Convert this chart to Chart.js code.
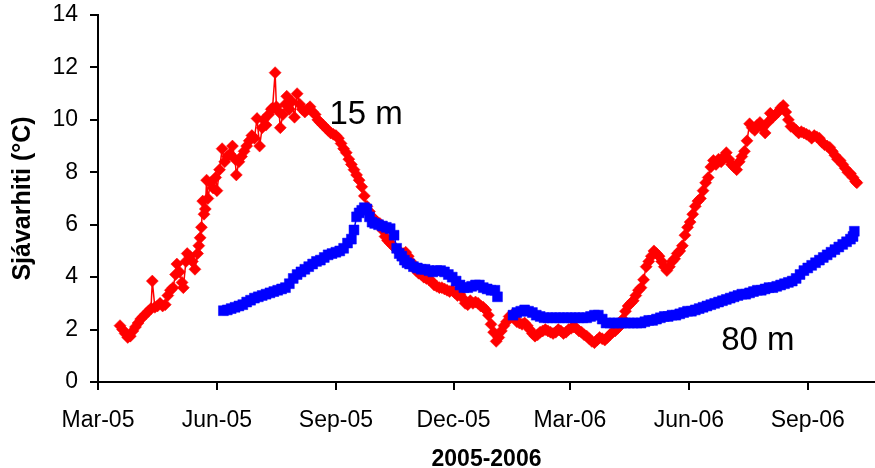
<!DOCTYPE html>
<html>
<head>
<meta charset="utf-8">
<title>Sjávarhiti 2005-2006</title>
<script src="https://cdn.jsdelivr.net/npm/chart.js@4/dist/chart.umd.min.js"></script>
<style>
  html, body { margin: 0; padding: 0; background: #fff; }
  #wrap { width: 875px; height: 468px; position: relative; }
</style>
</head>
<body>
<div id="wrap"><canvas id="c" width="875" height="468"></canvas></div>
<script>
// Days counted from 1 March 2005
const tickDays = [0, 92, 184, 275, 365, 457, 549];
const tickLabels = ['Mar-05', 'Jun-05', 'Sep-05', 'Dec-05', 'Mar-06', 'Jun-06', 'Sep-06'];
const yTicks = [0, 2, 4, 6, 8, 10, 12, 14];

// 15 m depth
const redDays = [
  17, 19, 21, 23, 25, 27, 29, 31, 33, 35, 37, 39, 41, 42, 44, 46, 48, 50, 52, 54,
  56, 58, 60, 61, 63, 65, 66, 68, 69, 71, 73, 75, 77, 78, 79, 80, 81, 82, 83, 84,
  85, 87, 89, 91, 92, 94, 96, 98, 100, 102, 104, 106, 107, 109, 111, 113, 115, 117, 119, 121,
  123, 125, 127, 128, 130, 132, 134, 135, 137, 138, 140, 141, 143, 145, 146, 148, 150, 152, 154, 156,
  158, 160, 162, 164, 166, 168, 170, 172, 174, 176, 178, 180, 182, 184, 186, 188, 190, 192, 194, 196,
  198, 200, 202, 204, 206, 208, 210, 212, 214, 216, 218, 220, 222, 224, 226, 228, 230, 232, 234, 236,
  238, 240, 242, 244, 246, 248, 250, 252, 254, 256, 258, 260, 262, 264, 266, 268, 270, 272, 274, 276,
  278, 280, 282, 284, 286, 288, 290, 292, 294, 296, 298, 300, 302, 304, 306, 308, 310, 312, 314, 316,
  318, 320, 322, 324, 326, 328, 330, 332, 334, 336, 338, 340, 342, 344, 346, 348, 350, 352, 354, 356,
  358, 360, 362, 364, 366, 368, 370, 372, 374, 376, 378, 380, 382, 384, 386, 388, 390, 392, 394, 396,
  398, 400, 402, 404, 406, 408, 410, 412, 414, 416, 418, 420, 422, 424, 426, 428, 430, 432, 434, 436,
  438, 440, 442, 444, 446, 448, 450, 452, 454, 456, 458, 460, 462, 464, 466, 468, 470, 472, 474, 476,
  478, 480, 482, 484, 486, 488, 490, 492, 494, 496, 498, 500, 502, 504, 506, 508, 510, 512, 514, 516,
  518, 520, 522, 524, 526, 528, 530, 532, 534, 536, 538, 540, 542, 544, 546, 548, 550, 552, 554, 556,
  558, 560, 562, 564, 566, 568, 570, 572, 574, 576, 578, 580, 582, 584, 586, 587
];
const redTemps = [
  2.15, 2.0, 1.85, 1.7, 1.75, 1.95, 2.1, 2.25, 2.4, 2.5, 2.6, 2.7, 2.8, 3.85, 2.85, 2.9, 3.0, 2.9, 2.95, 3.3,
  3.5, 3.6, 4.1, 4.5, 4.2, 3.8, 3.6, 4.6, 4.9, 4.8, 4.6, 4.3, 4.9, 5.2, 5.5, 5.9, 6.9, 6.4, 6.6, 7.7,
  7.0, 7.6, 7.4, 7.8, 7.3, 8.1, 8.9, 8.4, 8.6, 8.7, 9.0, 8.5, 7.9, 8.4, 8.6, 8.8, 9.0, 9.2, 9.4, 9.3,
  10.05, 9.0, 9.7, 10.0, 9.8, 10.2, 10.4, 10.45, 11.8, 10.5, 10.3, 9.7, 10.2, 10.6, 10.9, 10.4, 10.7, 10.1, 11.0, 10.6,
  10.4, 10.3, 10.4, 10.5, 10.3, 10.2, 10.0, 9.9, 9.8, 9.7, 9.6, 9.5, 9.45, 9.4, 9.3, 9.1, 8.9, 8.75, 8.5, 8.3,
  8.1, 7.9, 7.7, 7.45, 7.1, 6.7, 6.5, 6.3, 6.2, 6.1, 6.05, 5.8, 5.55, 5.4, 5.3, 5.2, 5.1, 5.0, 4.95, 4.9,
  4.95, 4.8, 4.6, 4.4, 4.25, 4.15, 4.1, 4.0, 3.95, 3.9, 3.85, 3.7, 3.65, 3.6, 3.6, 3.55, 3.5, 3.45, 3.5, 3.4,
  3.3, 3.35, 3.2, 3.0, 2.95, 3.1, 3.0, 3.05, 3.0, 2.9, 2.85, 2.75, 2.55, 2.2, 1.9, 1.55, 1.7, 1.95, 2.15, 2.3,
  2.5, 2.55, 2.45, 2.3, 2.25, 2.2, 2.25, 2.15, 2.0, 1.85, 1.75, 1.8, 1.9, 1.95, 2.0, 1.95, 1.9, 1.85, 1.9, 2.0,
  1.95, 1.85, 1.9, 2.0, 2.05, 2.1, 2.05, 1.95, 1.9, 1.8, 1.75, 1.65, 1.55, 1.5, 1.6, 1.7, 1.65, 1.6, 1.7, 1.8,
  1.9, 1.95, 2.05, 2.15, 2.4, 2.7, 2.9, 3.0, 3.1, 3.3, 3.5, 3.6, 3.9, 4.4, 4.6, 4.8, 5.0, 4.9, 4.8, 4.6,
  4.4, 4.25, 4.4, 4.6, 4.7, 4.9, 5.0, 5.2, 5.6, 5.9, 6.1, 6.4, 6.7, 6.9, 7.0, 7.3, 7.6, 7.8, 8.2, 8.45,
  8.3, 8.5, 8.4, 8.6, 8.75, 8.5, 8.3, 8.2, 8.1, 8.4, 8.6, 8.8, 9.2, 9.85, 9.7, 9.6, 9.8, 9.9, 9.7, 9.5,
  9.9, 10.25, 10.1, 10.2, 10.3, 10.45, 10.55, 10.3, 10.0, 9.75, 9.7, 9.6, 9.5, 9.55, 9.5, 9.45, 9.4, 9.3, 9.4, 9.35,
  9.3, 9.15, 9.05, 9.0, 8.95, 8.8, 8.65, 8.5, 8.45, 8.3, 8.15, 8.0, 7.95, 7.8, 7.65, 7.6
];

// 80 m depth (null marks the break in the record)
const blueDays = [
  97, 100, 103, 106, 109, 112, 115, 118, 121, 124, 127, 130, 133, 136, 139, 142, 145, 148, 151, 154,
  157, 160, 163, 166, 169, 172, 175, 178, 181, 184, 187, 190, 193, 196, 198, 200, 202, 204, 206, 208,
  210, 212, 214, 217, 220, 223, 226, 229, 231, 233, 235, 237, 239, 241, 244, 247, 250, 253, 256, 259,
  262, 265, 268, 271, 274, 277, 280, 283, 286, 289, 292, 295, 298, 301, 304, 307, 309,
  315,
  321, 324, 327, 330, 333, 336, 339, 342, 345, 348, 351, 354, 357, 360, 363, 366, 369, 372, 375, 378,
  381, 384, 387, 390, 393, 396, 399, 402, 405, 408, 411, 414, 417, 420, 423, 426, 429, 432, 435, 438,
  441, 444, 447, 450, 453, 456, 459, 462, 465, 468, 471, 474, 477, 480, 483, 486, 489, 492, 495, 498,
  501, 504, 507, 510, 513, 516, 519, 522, 525, 528, 531, 534, 537, 540, 543, 546, 549, 552, 555, 558,
  561, 564, 567, 570, 573, 576, 579, 582, 584, 585
];
const blueTemps = [
  2.72, 2.75, 2.8, 2.85, 2.9, 2.95, 3.05, 3.12, 3.2, 3.25, 3.3, 3.35, 3.4, 3.45, 3.5, 3.55, 3.6, 3.75, 3.95, 4.1,
  4.2, 4.3, 4.4, 4.5, 4.6, 4.65, 4.75, 4.85, 4.9, 4.95, 5.0, 5.1, 5.3, 5.45, 5.8, 6.3, 6.45, 6.55, 6.65, 6.6,
  6.3, 6.1, 6.05, 6.0, 5.95, 5.9, 5.85, 5.6, 5.1, 4.9, 4.8, 4.65, 4.55, 4.5, 4.4, 4.35, 4.3, 4.3, 4.25, 4.2,
  4.25, 4.25, 4.2, 4.1, 4.0, 3.85, 3.7, 3.6, 3.6, 3.65, 3.7, 3.7, 3.6, 3.55, 3.5, 3.5, 3.25,
  null,
  2.55, 2.65, 2.7, 2.75, 2.7, 2.65, 2.55, 2.5, 2.45, 2.45, 2.45, 2.45, 2.45, 2.45, 2.45, 2.45, 2.45, 2.45, 2.45, 2.45,
  2.5, 2.55, 2.55, 2.4, 2.25, 2.25, 2.25, 2.25, 2.25, 2.25, 2.25, 2.25, 2.25, 2.25, 2.3, 2.35, 2.35, 2.4, 2.45, 2.5,
  2.5, 2.55, 2.55, 2.6, 2.65, 2.7, 2.7, 2.75, 2.8, 2.85, 2.9, 2.95, 3.0, 3.05, 3.1, 3.15, 3.2, 3.25, 3.3, 3.35,
  3.35, 3.4, 3.45, 3.5, 3.5, 3.55, 3.6, 3.6, 3.65, 3.7, 3.75, 3.8, 3.85, 3.95, 4.1, 4.25, 4.35, 4.45, 4.55, 4.65,
  4.75, 4.85, 4.95, 5.05, 5.15, 5.25, 5.35, 5.45, 5.55, 5.75
];

const toPoints = (xs, ys) => xs.map((x, i) => ({ x: x, y: ys[i] }));

Chart.defaults.font.family = '"Liberation Sans", Arial, sans-serif';
Chart.defaults.color = '#000';

// Depth captions written next to each curve, anchored in data units
const depthLabels = {
  id: 'depthLabels',
  afterDatasetsDraw(chart, args, opts) {
    const { ctx, scales } = chart;
    ctx.save();
    ctx.fillStyle = '#000';
    ctx.font = opts.font;
    ctx.textAlign = 'left';
    ctx.textBaseline = 'alphabetic';
    opts.items.forEach(it => {
      ctx.fillText(it.text, scales.x.getPixelForValue(it.day), scales.y.getPixelForValue(it.temp));
    });
    ctx.restore();
  }
};

new Chart(document.getElementById('c'), {
  type: 'line',
  data: {
    datasets: [
      {
        label: '80 m',
        data: toPoints(blueDays, blueTemps),
        order: 0,
        borderColor: '#0000ff',
        backgroundColor: '#0000ff',
        borderWidth: 1.5,
        pointStyle: 'rect',
        pointRadius: 7,
        pointBorderWidth: 0.5,
        pointBackgroundColor: '#0000ff',
        pointBorderColor: '#0000ff',
        spanGaps: false,
        tension: 0
      },
      {
        label: '15 m',
        data: toPoints(redDays, redTemps),
        order: 1,
        borderColor: '#ff0000',
        backgroundColor: '#ff0000',
        borderWidth: 1.5,
        pointStyle: 'rectRot',
        pointRadius: 6,
        pointBorderWidth: 0.5,
        pointBackgroundColor: '#ff0000',
        pointBorderColor: '#ff0000',
        tension: 0
      }
    ]
  },
  options: {
    responsive: false,
    animation: false,
    events: [],
    layout: { autoPadding: false, padding: { top: 15, right: 0, left: 0, bottom: 0 } },
    plugins: {
      legend: { display: false },
      tooltip: { enabled: false },
      depthLabels: {
        font: '33px "Liberation Sans", Arial, sans-serif',
        items: [
          { text: '15 m', day: 179, temp: 9.84 },
          { text: '80 m', day: 482, temp: 1.22 }
        ]
      }
    },
    scales: {
      x: {
        type: 'linear',
        min: 0,
        max: 601,
        afterBuildTicks: s => { s.ticks = tickDays.map(v => ({ value: v })); },
        afterFit: s => { s.height = 86; s.paddingLeft = 0; s.paddingRight = 0; },
        ticks: {
          autoSkip: false,
          maxRotation: 0,
          padding: 17,
          font: { size: 23 },
          callback: (v, i) => tickLabels[i]
        },
        grid: {
          drawOnChartArea: false,
          drawTicks: true,
          tickLength: 8,
          tickColor: '#000',
          lineWidth: 2
        },
        border: { display: true, color: '#000', width: 2 },
        title: {
          display: true,
          text: '2005-2006',
          font: { size: 23, weight: 'bold' },
          padding: { top: 0, bottom: -5 }
        }
      },
      y: {
        min: 0,
        max: 14,
        afterBuildTicks: s => { s.ticks = yTicks.map(v => ({ value: v })); },
        afterFit: s => { s.width = 98; s.paddingTop = 0; s.paddingBottom = 0; },
        ticks: {
          padding: 12,
          font: { size: 23 },
          callback: v => String(v)
        },
        grid: {
          drawOnChartArea: false,
          drawTicks: true,
          tickLength: 8,
          tickColor: '#000',
          lineWidth: 2
        },
        border: { display: true, color: '#000', width: 2 },
        title: {
          display: true,
          text: 'Sjávarhiti (°C)',
          font: { size: 25, weight: 'bold' },
          padding: { top: 8, bottom: 0 }
        }
      }
    }
  },
  plugins: [depthLabels]
});
</script>
</body>
</html>
